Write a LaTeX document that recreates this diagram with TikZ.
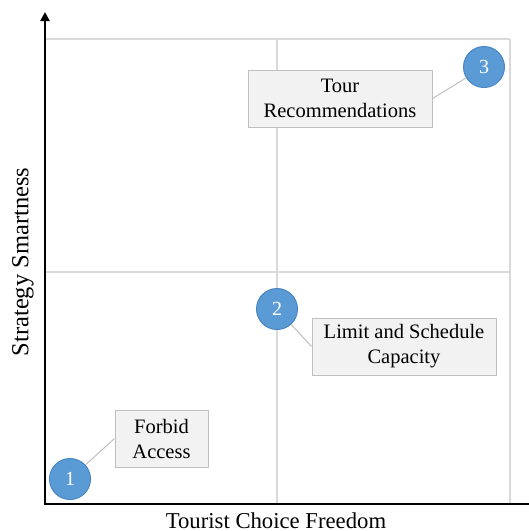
\documentclass[tikz,border=0pt]{standalone}
\usepackage{fontspec}
\setmainfont{Liberation Serif}
\usetikzlibrary{arrows.meta}
\definecolor{dotblue}{HTML}{5B9BD5}
\definecolor{dotedge}{HTML}{4A86C4}
\definecolor{boxfill}{HTML}{F2F2F2}
\definecolor{boxedge}{HTML}{BFBFBF}
\definecolor{gridgray}{HTML}{D9D9D9}

\begin{document}
\begin{tikzpicture}[x=1pt, y=-1pt,
  dot/.style={circle, fill=dotblue, draw=dotedge, line width=1pt, minimum size=41pt, inner sep=0pt, text=white, font=\fontsize{20}{20}\selectfont},
  tag/.style={draw=boxedge, fill=boxfill, line width=1pt, align=center, minimum height=57pt, inner sep=0pt, font=\fontsize{20.5}{25}\selectfont},
  lead/.style={draw=boxedge, line width=1pt},
  gridline/.style={draw=gridgray, line width=1.3pt},
  axis/.style={line width=2.5pt}]
  \useasboundingbox (0,0) rectangle (529,531);

  % Grid
  \draw[gridline] (45,39) -- (510,39);
  \draw[gridline] (45,272) -- (510,272);
  \draw[gridline] (277,39) -- (277,504);
  \draw[gridline] (510,39) -- (510,504);

  % Axes
  \coordinate (origin) at (45,504);
  \coordinate (ytip) at (45,12);
  \coordinate (xend) at (529,504);
  \draw[axis, -{Triangle[width=9pt,length=9pt]}] ([yshift=1.25pt]origin) -- (ytip);
  \draw[axis] ([xshift=-1.25pt]origin) -- (xend);
  \node[rotate=90, font=\fontsize{24.5}{24.5}\selectfont] (ylab) at (23,262) {Strategy Smartness};
  \node[font=\fontsize{22.7}{22.7}\selectfont] (xlab) at (276,521) {Tourist Choice Freedom};

  % Strategies
  \node[tag, minimum width=184pt] (t3) at (340,98.5) {Tour\\Recommendations};
  \node[tag, minimum width=184pt] (t2) at (404,346.5) {Limit and Schedule\\Capacity};
  \node[tag, minimum width=93pt] (t1) at (161.5,438.5) {Forbid\\Access};

  \node[dot] (d3) at (484,67) {3};
  \node[dot] (d2) at (277,309) {2};
  \node[dot] (d1) at (70,479) {1};

  \draw[lead] (d3) -- (t3.east);
  \draw[lead] (d2) -- (t2.west);
  \draw[lead] (d1) -- (t1.west);
\end{tikzpicture}
\end{document}
